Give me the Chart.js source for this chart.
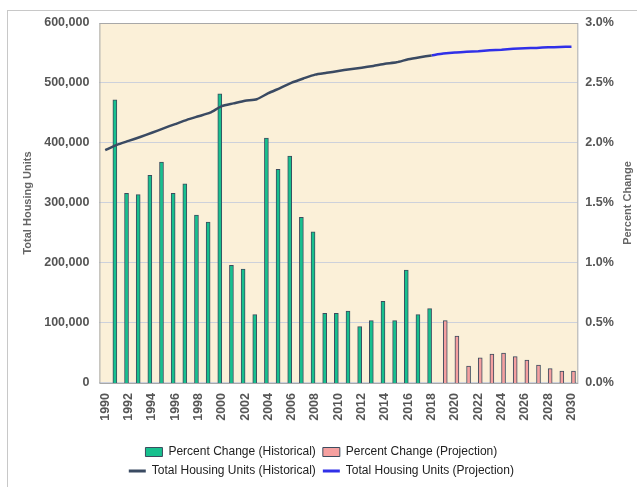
<!DOCTYPE html>
<html>
<head>
<meta charset="utf-8">
<script src="https://cdn.jsdelivr.net/npm/chart.js@4.4.0/dist/chart.umd.min.js"></script>
<style>
html, body { margin: 0; padding: 0; background: #fff; overflow: hidden; }
#wrap { position: relative; width: 637px; height: 487px; }
#frame { position: absolute; left: 7px; top: 10px; width: 700px; height: 600px; border: 1px solid #c8c8c8; }
canvas { position: absolute; left: 0; top: 0; }
</style>
</head>
<body>
<div id="wrap"><div id="frame"></div><canvas id="myChart" width="637" height="487"></canvas></div>
<script>
const years = ['1990','1991','1992','1993','1994','1995','1996','1997','1998','1999',
  '2000','2001','2002','2003','2004','2005','2006','2007','2008','2009',
  '2010','2011','2012','2013','2014','2015','2016','2017','2018','2019',
  '2020','2021','2022','2023','2024','2025','2026','2027','2028','2029','2030'];

// total housing units, 1990-2018 (historical) and 2018-2030 (projection)
const unitsHistorical = [388000, 397000, 403500, 410000, 417000, 424500, 431500, 438500, 444500, 450500,
  461500, 466000, 470500, 473000, 483000, 491500, 500500, 507500, 514000, 517000,
  520000, 523000, 525500, 528500, 532000, 534500, 539500, 543000, 546000];
const unitsProjection = [546000, 549000, 551000, 552000, 553000, 554500, 555500, 557000, 558000, 558500,
  559500, 560000, 560500];

// percent change, 1991-2018 (historical) and 2019-2030 (projection)
const pctHistorical = [2.36, 1.58, 1.57, 1.73, 1.84, 1.58, 1.66, 1.40, 1.34,
  2.41, 0.98, 0.95, 0.57, 2.04, 1.78, 1.89, 1.38, 1.26, 0.58,
  0.58, 0.60, 0.47, 0.52, 0.68, 0.52, 0.94, 0.57, 0.62];
const pctProjection = [0.52, 0.39, 0.14, 0.21, 0.24, 0.25, 0.22, 0.19, 0.15, 0.12, 0.10, 0.10];

const leftTicks = [0, 100000, 200000, 300000, 400000, 500000, 600000];

function placeAt(values, startYear) {
  const start = years.indexOf(startYear);
  return years.map((y, i) => (i >= start && i - start < values.length) ? values[i - start] : null);
}

const tickFont = { family: "'Liberation Sans', Arial, sans-serif", size: 12.5, weight: 'bold' };
const titleFont = { family: "'Liberation Sans', Arial, sans-serif", size: 11, weight: 'bold' };

const plotDecor = {
  id: 'plotDecor',
  afterLayout(chart) {
    // the original legend sits a little left of the plot centre
    const l = chart.legend;
    l.left -= 17;
    l.right -= 17;
  },
  beforeDraw(chart) {
    const { ctx, chartArea: a } = chart;
    ctx.save();
    ctx.fillStyle = '#fbf0d8';
    ctx.fillRect(a.left, a.top, a.width, a.height);
    ctx.restore();
  },
  beforeDatasetsDraw(chart) {
    const { ctx, chartArea: a } = chart;
    ctx.save();
    ctx.strokeStyle = '#a8a8a8';
    ctx.lineWidth = 1;
    ctx.strokeRect(a.left + 0.5, a.top + 0.5, a.width, a.height);
    ctx.restore();
  },
  afterDraw(chart) {
    // right axis title reads bottom-to-top in the original
    const { ctx, chartArea: a } = chart;
    const s = chart.scales.y1;
    ctx.save();
    ctx.translate(s.right - 7, (a.top + a.bottom) / 2);
    ctx.rotate(-Math.PI / 2);
    ctx.font = "bold 11px 'Liberation Sans', Arial, sans-serif";
    ctx.fillStyle = '#666';
    ctx.textAlign = 'center';
    ctx.textBaseline = 'middle';
    ctx.fillText('Percent Change', 0, 0);
    ctx.restore();
  }
};

const ctx = document.getElementById('myChart').getContext('2d');
const myChart = new Chart(ctx, {
  type: 'bar',
  data: {
    labels: years,
    datasets: [{
      label: 'Percent Change (Historical)',
      data: placeAt(pctHistorical, '1991'),
      backgroundColor: '#17c08e',
      borderColor: '#3c4c5e',
      borderWidth: 1,
      barThickness: 4,
      yAxisID: 'y1',
      order: 2
    }, {
      label: 'Percent Change (Projection)',
      data: placeAt(pctProjection, '2019'),
      backgroundColor: '#f5a0a0',
      borderColor: '#3c4c5e',
      borderWidth: 1,
      barThickness: 4,
      yAxisID: 'y1',
      order: 2
    }, {
      type: 'line',
      label: 'Total Housing Units (Historical)',
      data: placeAt(unitsHistorical, '1990'),
      borderColor: '#3a4a62',
      borderWidth: 2.5,
      pointRadius: 0,
      tension: 0.2,
      yAxisID: 'y',
      order: 1
    }, {
      type: 'line',
      label: 'Total Housing Units (Projection)',
      data: placeAt(unitsProjection, '2018'),
      borderColor: '#3030e8',
      borderWidth: 2.5,
      pointRadius: 0,
      tension: 0.2,
      yAxisID: 'y',
      order: 1
    }]
  },
  options: {
    responsive: false,
    animation: false,
    layout: { padding: { left: 10, right: 2, top: 23, bottom: 0 } },
    plugins: {
      tooltip: { enabled: false },
      legend: {
        position: 'bottom',
        fullSize: false,
        labels: {
          usePointStyle: true,
          pointStyleWidth: 17,
          boxHeight: 9,
          padding: 7,
          color: '#222',
          font: { family: "'Liberation Sans', Arial, sans-serif", size: 12 },
          sort: (a, b) => a.datasetIndex - b.datasetIndex,
          generateLabels(chart) {
            const items = Chart.defaults.plugins.legend.labels.generateLabels(chart);
            items.forEach(it => {
              const ds = chart.data.datasets[it.datasetIndex];
              if (ds.type === 'line') {
                it.pointStyle = 'line';
                it.lineWidth = 3;
                it.strokeStyle = ds.borderColor;
              } else {
                it.pointStyle = 'rect';
                it.lineWidth = 1;
                it.fillStyle = ds.backgroundColor;
                it.strokeStyle = ds.borderColor;
              }
            });
            return items;
          }
        }
      }
    },
    scales: {
      x: {
        grid: { display: false, drawTicks: false },
        border: { display: false },
        ticks: {
          autoSkip: false,
          minRotation: 90,
          maxRotation: 90,
          padding: 10,
          color: '#555',
          font: tickFont,
          callback(value, index) { return index % 2 === 0 ? years[index] : ''; }
        },
        title: {
          display: true,
          text: ' ',
          color: 'rgba(0,0,0,0)',
          font: { size: 1 },
          padding: { top: 3, bottom: 4 }
        }
      },
      y: {
        position: 'left',
        min: 0,
        max: 600000,
        afterBuildTicks(scale) { scale.ticks = leftTicks.map(v => ({ value: v })); },
        grid: { color: '#cdd1db', drawTicks: false },
        border: { display: false },
        ticks: {
          padding: 10,
          color: '#555',
          font: tickFont,
          callback: v => v.toLocaleString('en-US')
        },
        title: {
          display: true,
          text: 'Total Housing Units',
          color: '#666',
          font: titleFont,
          padding: { top: 11, bottom: 0 }
        }
      },
      y1: {
        position: 'right',
        min: 0,
        max: 3,
        grid: { display: false, drawTicks: false },
        border: { display: false },
        ticks: {
          stepSize: 0.5,
          padding: 8,
          color: '#555',
          font: tickFont,
          callback: v => v.toFixed(1) + '%'
        },
        title: {
          display: true,
          text: 'Percent Change',
          color: 'rgba(0,0,0,0)',
          font: titleFont,
          padding: { top: 0, bottom: 0 }
        }
      }
    }
  },
  plugins: [plotDecor]
});
</script>
</body>
</html>
